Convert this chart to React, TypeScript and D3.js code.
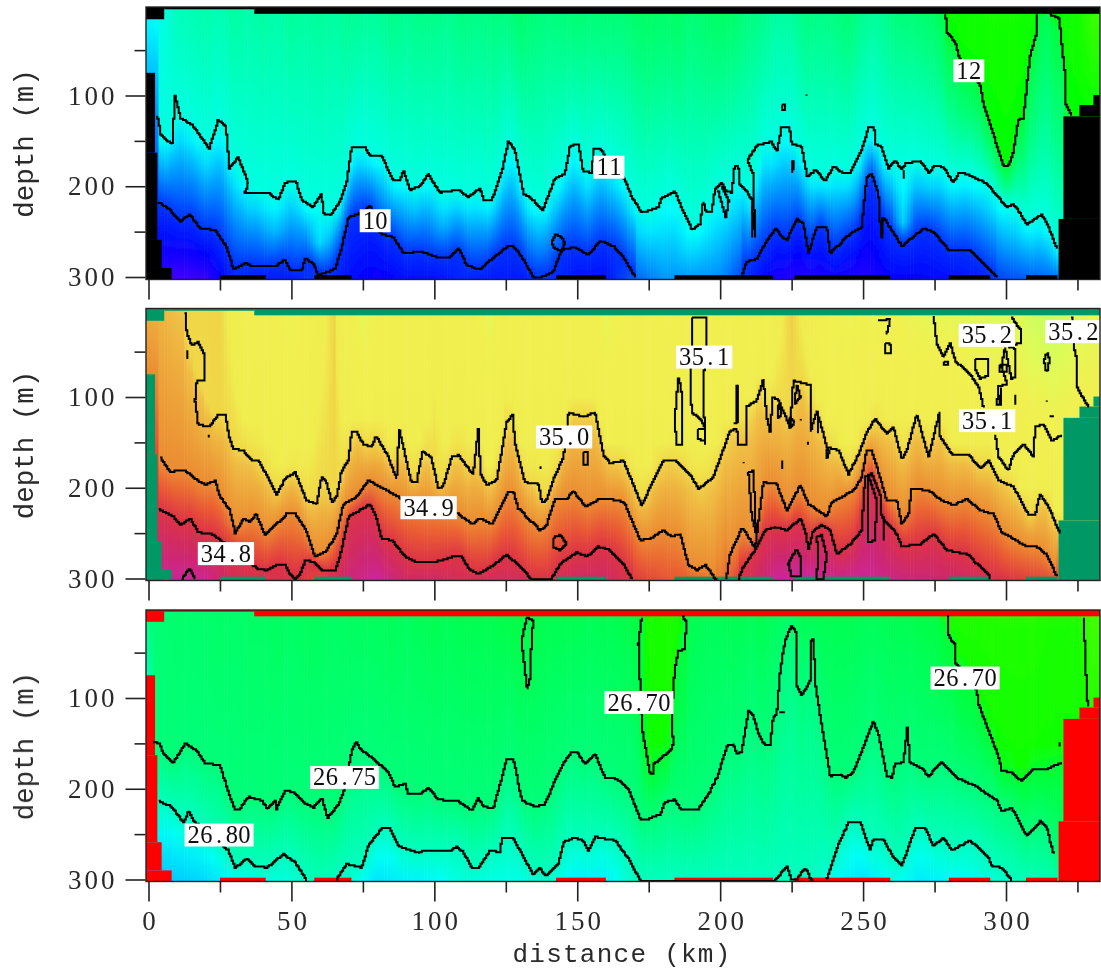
import { useEffect, useRef } from "react";
import * as d3 from "d3";

type Pt = [number, number];

// contours as [distance km, depth m]
const temp11: Pt[] = [[3.2,123],[4.4,144],[8.3,154],[9.3,100],[11.3,125],[15.1,132],[18,144],[21.2,159],[24.4,127],[27.1,134],[28.3,180],[31.4,168],[34.9,197],[33.8,207],[41.9,207],[45.4,215],[47.8,196],[51.5,194],[53.6,215],[57.4,223],[60.6,208],[61.2,230],[63.5,232],[67,217],[69.3,195],[71.1,157],[75.7,157],[77.5,166],[81.6,167],[85.7,194],[88,193],[89.2,183],[91.5,204],[95,200],[97.9,186],[100.2,199],[102,207],[108.4,204],[111.9,212],[116,202],[117.2,215],[120.1,215],[123.6,184],[125.9,151],[128.2,160],[131.2,208],[134.6,215],[137.9,227],[142.2,191],[145.7,186],[147.5,155],[150.4,154],[152.1,184],[155,185],[155.9,159],[158.2,159],[159.7,167],[166.7,193],[169.1,212],[172.6,229],[178.4,223],[179.6,213],[184.2,206],[186.6,224],[188.9,239],[190.1,248],[193,241],[194.1,217],[195.1,228],[197,228],[198.2,204],[200.5,196],[202.3,206],[204.1,207],[205,178],[206.4,178],[206.7,197],[209.3,206],[211,215],[212.2,256],[211.6,186],[209.6,171],[212.8,155],[218,151],[219.8,162],[221.5,135],[224.2,135],[225,153],[228.5,157],[230.5,190],[233.2,182],[236.7,194],[239.6,178],[243.1,186],[245.5,185],[249.5,160],[251.9,135],[253.9,135],[254.2,153],[256.5,157],[258.9,180],[261.2,171],[263.5,182],[264.7,175],[270,172],[272.9,185],[275.2,177],[278.1,179],[281.6,196],[283.4,186],[285.7,186],[293.3,197],[300.2,223],[302.6,219],[307.3,242],[312.5,231],[314.9,245],[317.8,269]];
const temp10West: Pt[] = [[3.4,217],[7.5,226],[11,239],[14.5,231],[18,247],[23.3,248],[27.3,267],[29.7,291],[33.8,285],[36.7,288],[44.3,288],[47.8,281],[49.5,292],[53.6,293],[54.8,280],[57.7,285],[59.4,298],[65.3,291],[67.6,267],[70,234],[74,230],[77.7,221],[81,252],[85.7,256],[89.2,274],[95,272],[100.8,278],[105.5,278],[108.4,268],[111.3,287],[116,292],[120.1,280],[125.9,266],[127.7,266],[130.6,278],[134.6,300],[137.6,300],[141.6,294],[144.6,270],[149.2,267],[153.9,276],[158,260],[162.6,266],[166.1,278],[170.2,300]];
const temp10East: Pt[] = [[207.5,300],[209.3,283],[212.8,280],[215.7,263],[219.2,247],[223.3,260],[226.8,236],[229.1,241],[230.9,274],[233.8,245],[237.3,245],[238.5,274],[245.5,252],[249.5,245],[251.3,190],[253,186],[255.4,208],[256.3,257],[257.1,234],[263.5,266],[271.1,247],[274.6,250],[279.9,270],[287.4,270],[290.4,280],[296.8,300]];
const temp12West: Pt[] = [[278.9,11],[279.3,30],[282.2,41],[283.7,59],[290.9,88],[292.1,109],[296.2,149],[299.1,178],[300.8,178],[302.6,162],[304.3,127],[306.1,125],[308.4,57],[310.8,30],[311,11]];
const temp12East: Pt[] = [[315.4,11],[318.7,15],[319.5,43],[320.7,79],[320.7,109],[323,122]];
const tempBits: Pt[][] = [
  [[141.1,261],[142.2,253],[144.6,256],[145.7,263],[144.6,271],[142.2,269],[141.1,261]],
  [[221.5,110],[222.8,110],[222.8,116],[221.5,116],[221.5,110]],
  [[230,98],[230,100]],
  [[225,171],[225,186]],
  [[225.6,171],[225.6,182]],
  [[264.2,183],[264.2,192]],
  [[199.3,205],[202,235],[203,215],[200.5,200]],
  [[211.4,222],[211.4,256]],
  [[256.9,234],[256.9,258]],
];

const salt350: Pt[] = [[12.8,7],[13.4,30],[15.1,43],[17.4,39],[19.4,53],[19.8,81],[16.9,82],[16.3,104],[17.4,131],[21.5,132],[24.4,119],[26.8,119],[28.5,148],[29.7,157],[33.2,159],[36.2,170],[38.4,170],[40.8,183],[44.8,208],[47.8,190],[51.3,183],[55.3,214],[58.8,218],[60.6,188],[62.3,194],[64.1,216],[65.8,210],[67.6,181],[69.9,170],[71.1,138],[72.8,139],[75.2,152],[78.1,155],[79.6,143],[83.9,166],[86.8,190],[87.7,135],[88.9,152],[92,194],[93.8,194],[95.9,159],[99,168],[101.4,201],[103.2,197],[106.1,166],[108.4,164],[113.6,186],[115.4,135],[116.2,185],[118.3,197],[121.8,192],[125.3,128],[127.4,119],[128.2,151],[131.7,194],[136.4,196],[137.6,216],[139.3,214],[141.7,190],[145.2,166],[147,117],[152.1,122],[156.2,117],[159.2,164],[161.5,173],[166.1,170],[172.6,220],[175.5,199],[180.1,170],[184.2,170],[189.5,186],[192.4,201],[197.6,188],[203.5,137],[205.8,135],[206.4,152],[209.3,152],[209,111],[212.8,104],[215.1,80],[216.3,122],[217.5,139],[218.4,100],[220.4,104],[224.5,133],[225.6,82],[231.5,87],[231.5,139],[233.8,115],[237.3,155],[241.4,159],[244.9,185],[248.4,163],[251.3,139],[254.2,124],[258.3,141],[260.6,133],[263.5,168],[265.3,159],[268.8,119],[272.9,166],[276.7,117],[277,144],[281,163],[286.9,164],[291,179],[293.9,170],[297.4,192],[302.6,199],[307.9,230],[310.2,230],[311.9,207],[314.9,221],[318.9,251]];
const salt349West: Pt[] = [[4,166],[7.5,182],[12.8,181],[16.3,190],[19.8,197],[23.3,192],[25,210],[28.5,225],[30.3,250],[33.2,234],[35.5,238],[37.6,229],[40.8,252],[43.1,245],[48.3,229],[51.3,229],[54.8,245],[58.3,276],[62.3,269],[65.8,251],[68.2,218],[72.8,210],[76.9,192],[82.2,201],[90,215],[108.4,229],[113.1,240],[116,234],[120.1,240],[123,223],[125.9,205],[127.7,205],[129.4,223],[137,247],[139.3,241],[142.2,212],[146.3,212],[148.6,203],[152.8,221],[158,212],[165,214],[166.7,218],[172,258],[175.5,256],[180.1,247],[183,254],[186,251],[188.9,285],[191.8,291],[194.7,285],[198.8,302]];
const salt349East: Pt[] = [[202.1,300],[203.5,273],[207.5,245],[209.3,251],[212.2,267],[215.1,194],[219.8,196],[223.3,225],[228,197],[230.9,218],[237.3,232],[239,216],[246.6,203],[249.5,188],[251.3,159],[253,159],[255.4,183],[258.3,214],[261.8,214],[263.5,240],[265.9,229],[267,201],[272.9,203],[277.5,214],[281.6,219],[286.3,212],[291,225],[295.6,229],[298.5,249],[307.3,265],[310.8,265],[314.3,274],[317.8,298]];
const salt348West: Pt[] = [[3.4,223],[8.7,232],[11,241],[14.5,234],[17.4,249],[22.1,251],[24.4,256],[38,289],[41.3,291],[44.8,285],[47.8,285],[49.5,295],[51.3,300],[53,295],[54.8,280],[57.7,282],[60.6,291],[65.3,291],[67,276],[70,232],[77.5,218],[79.3,229],[81.6,256],[85.1,258],[89.8,276],[93.8,282],[100.2,282],[106.6,276],[109.6,276],[111.9,289],[115.4,295],[120.7,285],[125.3,274],[130,287],[134,301],[141,300],[144,284],[149.8,271],[153.3,276],[157.4,265],[161.5,269],[166.1,284],[169,300]];
const salt348East: Pt[] = [[206.4,300],[208.1,287],[212.2,269],[215.7,247],[219.2,243],[223.3,247],[228,234],[229.7,247],[230.9,267],[232.6,247],[235.5,241],[238.5,247],[240.8,273],[245.5,262],[249.5,247],[250.7,188],[253,184],[256,208],[256.5,232],[261.8,251],[263.5,265],[270,262],[274.6,251],[279.3,269],[286.3,273],[293.9,296],[294.4,301]];
const saltBits: Pt[][] = [
  [[274.6,10],[275.8,41],[278.1,56],[280.4,40],[282.2,60],[287.4,75],[290.4,89],[292.1,111]],
  [[296.2,141],[297.4,166],[300.8,181],[302.6,163],[306.1,152],[309.6,166],[310.2,133],[313.1,130],[316,148],[319.5,142]],
  [[323,12],[323.6,42],[324.8,60],[324.8,89],[328.8,111]],
  [[185.4,78],[184.2,122],[184.6,152],[186.6,152],[186.9,104],[185.7,79]],
  [[190.4,12],[190.4,45],[189.5,86],[190.1,118],[192.4,122],[194.7,133],[194.7,153],[194.1,82],[195.3,42],[195.3,12],[190.4,12]],
  [[192,136],[194.5,136],[194.5,148],[192,146],[192,136]],
  [[205.8,87],[205.8,129],[204.5,129]],
  [[206.3,87],[206.3,129]],
  [[302,12],[305.2,27],[305.2,40],[300.9,45],[303.2,47],[303.2,78],[302,80],[299.7,45],[298.5,67],[300.3,86],[297.4,89],[296.8,109],[298.5,109],[298.5,89]],
  [[298,64],[300.2,64],[300.2,73],[298,73],[298,64]],
  [[303.2,97],[303.2,109]],
  [[297.6,97],[297.6,109]],
  [[289.2,58],[293.9,58],[293.9,76],[291,80],[289.2,69],[289.2,58]],
  [[278,61],[279.5,61],[279.5,64],[278,64],[278,61]],
  [[255.4,16],[259.5,14],[258.3,31]],
  [[257.7,40],[259.5,42],[259.5,52],[257.7,51],[257.7,40]],
  [[314.3,51],[315.3,60],[314.3,73],[313.3,60],[314.3,51]],
  [[314.3,103],[314.3,105]],
  [[315.2,121],[316.8,121]],
  [[226.8,86],[228,100],[226,108],[226.8,86]],
  [[220.4,108],[221.5,118],[220.4,124],[220.4,108]],
  [[234,118],[234,140]],
  [[224,122],[226,128],[224,135],[224,122]],
  [[228,124],[228,126]],
  [[230.9,150],[230.9,152]],
  [[208.1,171],[208.1,173]],
  [[237.3,158],[238.4,160],[237.3,168],[237.3,158]],
  [[152.1,160],[153.9,160],[153.9,175],[152.1,175],[152.1,160]],
  [[137.3,176],[137.3,180]],
  [[21.2,141],[21.2,144]],
  [[13.4,49],[13.4,58]],
  [[141.7,255],[144,252],[146.3,261],[144,269],[141.7,265],[141.7,255]],
  [[11.6,301],[14.3,289],[16.3,301]],
  [[225,276],[226.8,268],[228,276],[228,298],[225,298],[223.9,284],[225,276]],
  [[233.8,254],[235.5,252],[237.3,276],[236.1,300],[233.6,300],[234.4,276],[233.8,254]],
  [[251.9,188],[254.8,214],[254.2,258],[251.9,260],[251.9,188]],
  [[257.1,232],[257.1,258]],
  [[209.9,183],[211.6,181],[212.6,251],[211,229],[209.9,183]],
  [[221.9,170],[221.9,180]],
];

const dens675: Pt[] = [[1.7,148],[4,151],[5.2,162],[8.5,172],[12.8,150],[16.8,158],[19.8,172],[25,174],[28.5,209],[30.3,223],[32,222],[34.9,209],[39.6,213],[41.4,222],[44.3,213],[44.8,222],[47.8,202],[50.7,204],[54.2,215],[57.7,221],[60.6,210],[62.6,232],[66.4,217],[68.7,200],[71.1,158],[72.8,148],[74,156],[78.7,167],[83.9,182],[86.2,198],[89.8,194],[90.9,206],[95,206],[97.9,199],[101.4,212],[108.4,214],[113.1,224],[115.4,210],[117.2,220],[120.7,221],[123.6,188],[125.3,167],[127.7,167],[130.6,213],[135.2,220],[138.7,217],[142.2,191],[145.7,169],[148,159],[149.8,159],[152.8,173],[156.2,161],[159.7,188],[163.8,189],[167.9,200],[172,233],[174.9,233],[179,228],[180.7,215],[184.2,212],[186,222],[192.4,222],[195.9,206],[199.4,184],[202.3,153],[204.6,151],[205.8,161],[207.5,160],[209.9,114],[211.6,120],[213.4,140],[215.7,152],[217.5,152],[218.6,120],[219.8,118],[221,70],[222.7,37],[225,20],[226.8,30],[226.8,86],[228.5,97],[231.5,81],[231.7,37],[232.6,35],[233.5,90],[235.5,129],[238.5,186],[242,184],[243.7,188],[246.6,182],[250.1,154],[253.6,125],[255.4,140],[258.3,186],[260,188],[261.2,173],[264.1,171],[265.5,132],[266.4,171],[270.5,178],[272.9,186],[277.5,170],[280.4,180],[283.4,189],[289.2,197],[296.8,213],[298.5,225],[302,221],[307.3,252],[311.9,236],[314.3,243],[316.6,272]];
const dens680West: Pt[] = [[3.4,213],[8.1,220],[12.2,237],[14,225],[15.7,235],[24,258],[27.9,268],[30.3,287],[34.4,277],[37.2,285],[41.4,287],[47.2,272],[51.3,281],[55.3,301]];
const dens680Mid: Pt[] = [[65.8,300],[69.3,283],[74.6,287],[76.9,263],[81.6,244],[84.5,244],[87.4,263],[94.5,271],[96.8,268],[105.8,268],[107.8,264],[110.1,270],[113.1,287],[115.4,287],[119.5,268],[123,270],[123.6,255],[127.7,255],[130.6,272],[134.6,295],[137,287],[138.7,296],[143.4,283],[145.2,259],[148.7,254],[152.1,257],[153.9,268],[156.2,253],[163.2,257],[167.9,277],[172,301],[219.2,301],[223.3,285],[225,300],[226.8,300],[229.7,287],[232,301]];
const dens680East: Pt[] = [[237.3,300],[241.4,261],[244.9,237],[249,237],[252.4,267],[253.6,256],[257.1,256],[260.6,276],[263.5,285],[268.2,244],[271.7,243],[274.6,263],[278.1,254],[281,268],[287.4,257],[293.9,276],[295,285],[298.5,287],[302,301]];
const dens670Mid: Pt[] = [[172.6,11],[171.4,40],[172,85],[172.6,132],[175.5,184],[176.6,184],[176.6,173],[182.5,158],[183.6,151],[183,118],[184.2,66],[185.4,48],[187.7,46],[188.1,15],[186.9,10]];
const dens670East: Pt[] = [[279.9,9],[279.9,31],[282.2,42],[282.5,62],[289.8,92],[290.4,107],[293.9,136],[297.4,165],[298.5,180],[302,182],[305.2,191],[309.6,178],[314.3,178],[319.5,171]];
const densBits: Pt[][] = [
  [[132.3,11],[134.6,15],[134,40],[133.5,79],[132.5,90],[130.5,37],[132.3,11]],
  [[327.1,11],[327.7,48],[328.3,99],[328.8,110]],
  [[318.7,149],[318.7,153]],
  [[220.5,116],[222.5,116]],
];

// values at the top and bottom of the section, every 5 km and every 10 km
const surfaceKm = d3.range(0, 335, 5);
const bottomKm = d3.range(0, 340, 10);
const tempSurface = [10.95,11,11.2,11.25,11.3,11.25,11.35,11.3,11.35,11.3,11.4,11.35,11.4,11.35,11.45,11.4,11.4,11.5,11.45,11.5,11.5,11.45,11.55,11.5,11.55,11.55,11.7,11.6,11.55,11.6,11.65,11.6,11.65,11.6,11.7,11.75,11.7,11.75,11.6,11.7,11.75,11.7,11.55,11.5,11.35,11.4,11.55,11.5,11.55,11.65,11.45,11.4,11.55,11.6,11.65,11.75,12.05,12.1,12.1,12.1,12.1,12.1,12.05,11.85,12.05,12.1,12.3];
const tempBottom = [9.7,9.55,9.6,9.95,9.9,9.9,10.05,9.85,9.75,9.85,9.85,9.95,9.9,9.9,10,9.85,9.85,10.2,10.45,10.45,10.4,9.95,9.7,9.65,9.75,9.65,9.8,9.8,9.85,9.9,10.1,10.2,10.25,10.2];
const saltSurface = [34.96,34.97,34.99,35,35,34.998,35.02,35.06,35.05,35.07,35.12,35.05,35.02,34.998,35.06,35.15,35.08,35.07,35.06,35.07,35.02,35.06,35.05,35.08,35.14,35.03,35.09,35.06,35.05,35.06,35.08,35.06,35.14,35.1,35.07,35.08,35.08,35.07,35.08,35.07,35.08,35.09,35.07,35.06,35.02,34.995,35.02,35.06,35.1,35.12,35.09,35.13,35.1,35.12,35.14,35.15,35.14,35.15,35.16,35.17,35.16,35.17,35.2,35.22,35.2,35.17,35.15];
const saltBottom = [34.72,34.71,34.72,34.78,34.79,34.79,34.83,34.74,34.71,34.76,34.76,34.78,34.77,34.77,34.79,34.76,34.76,34.81,34.84,34.85,34.88,34.78,34.71,34.7,34.72,34.71,34.73,34.74,34.75,34.77,34.8,34.82,34.83,34.83];
const densSurface = [26.75,26.745,26.74,26.74,26.74,26.735,26.74,26.735,26.735,26.73,26.735,26.73,26.73,26.735,26.73,26.73,26.73,26.725,26.73,26.725,26.72,26.725,26.72,26.72,26.72,26.715,26.71,26.715,26.72,26.72,26.72,26.725,26.72,26.72,26.71,26.695,26.69,26.69,26.72,26.725,26.725,26.72,26.725,26.72,26.73,26.725,26.72,26.72,26.72,26.72,26.725,26.725,26.72,26.72,26.715,26.71,26.69,26.685,26.685,26.685,26.685,26.685,26.685,26.69,26.69,26.69,26.66];
const densBottom = [26.87,26.86,26.85,26.82,26.815,26.81,26.795,26.805,26.84,26.83,26.825,26.81,26.815,26.815,26.805,26.83,26.83,26.8,26.79,26.79,26.79,26.79,26.795,26.795,26.82,26.84,26.815,26.835,26.825,26.815,26.805,26.795,26.79,26.79];

// warm tongues that rise between the contours: [km, half width km, depth m, value]
const tempPlumes: [number, number, number, number][] = [
  [60, 5, 262, 10.75],[44, 6, 250, 10.6],[103, 5, 245, 10.55],[189.5, 5, 270, 10.75],[264, 4, 240, 10.7],
];

// where the section is blanked the shading still needs something to hold on to
const tempGhost12: Pt[] = [[323.1,122],[334,130]];
const tempGhost11: Pt[] = [[317.9,269],[334,285]];
const saltGhost350: Pt[] = [[319,251],[334,262]];
const densGhost675: Pt[] = [[316.7,272],[334,290]];
const densGhost670: Pt[] = [[319.6,171],[334,180]];

// colour tables
const tempKnots = [9.4,9.8,10,10.5,10.9,11,11.5,11.99,12,12.3,12.5];
const tempColors = ["#6e00ff","#0000ff","#0032ff","#00a0ff","#00ffff","#00ffe1","#00ff82","#00ff3c","#00ff00","#3cff00","#6eff00"];
const saltKnots = [34.7,34.75,34.8,34.85,34.9,34.95,34.99,35,35.01,35.1,35.15,35.2,35.3];
const saltColors = ["#cd23a5","#cd286e","#dc3246","#eb5a32","#eb8c32","#eeaa3c","#f0c346","#f0d746","#f0ee50","#f0f050","#e1fa55","#c8ff5f","#aaff6e"];
const densKnots = [26.65,26.699,26.7,26.75,26.8,26.82,26.85,26.9];
const densColors = ["#50ff00","#0fff00","#00ff32","#00ff78","#00ffbe","#00fff5","#00d7ff","#00a0ff"];

// blanked areas: [km from, km to, depth from, depth to]
const blanks: [number, number, number, number][] = [
  [-1.5,5.5,0,16],[5.5,37,0,5],[37,334,0,10],
  [-1.5,2.3,75,163],[-1.5,3.1,163,259],[-1.5,4.6,259,290],[-1.5,8.1,290,305],
  [320.1,334,123,236],[318.4,334,236,305],[325.7,334,110.5,123],[330.6,334,99.5,110.5],
  [25,41,298,305],[58,71,298,305],[142.6,160,298,305],[184,218.5,298,305],[226,259.5,298,305],[280,294.5,298,305],[307,318,298,305],
];

const xTicksMajor = [0,50,100,150,200,250,300];
const xTicksMinor = [25,75,125,175,225,275,325];
const depthTicksMajor = [100,200,300];
const depthTicksMinor = [50,150,250];

type Iso = { value: number; parts: Pt[][]; ghost?: Pt[]; sharp?: boolean };
type Tag = { text: string; km: number; depth: number };
type Panel = {
  id: string; y0: number; y300: number; frameTop: number; frameBottom: number; blank: string;
  knots: number[]; colors: string[]; surface: number[]; bottom: number[];
  isos: Iso[]; bits: Pt[][]; tags: Tag[]; plumes?: [number, number, number, number][];
};

const panels: Panel[] = [
  {
    id: "temp", y0: 4.75, y300: 277, frameTop: 7, frameBottom: 279.5, blank: "#000000",
    knots: tempKnots, colors: tempColors, surface: tempSurface, bottom: tempBottom, plumes: tempPlumes,
    isos: [
      { value: 12, parts: [temp12West, temp12East], ghost: tempGhost12, sharp: true },
      { value: 11, parts: [temp11], ghost: tempGhost11 },
      { value: 10, parts: [temp10West, temp10East] },
    ],
    bits: tempBits,
    tags: [
      { text: "10", km: 79.3, depth: 238 },
      { text: "11", km: 161.1, depth: 179 },
      { text: "12", km: 287, depth: 72.7 },
    ],
  },
  {
    id: "salt", y0: 306.25, y300: 578.5, frameTop: 308.5, frameBottom: 580.5, blank: "#009966",
    knots: saltKnots, colors: saltColors, surface: saltSurface, bottom: saltBottom,
    isos: [
      { value: 35, parts: [salt350], ghost: saltGhost350 },
      { value: 34.9, parts: [salt349West, salt349East] },
      { value: 34.8, parts: [salt348West, salt348East] },
    ],
    bits: saltBits,
    tags: [
      { text: "34.8", km: 27.1, depth: 272.6 },
      { text: "34.9", km: 98, depth: 222 },
      { text: "35.0", km: 145.4, depth: 144 },
      { text: "35.1", km: 194.4, depth: 56 },
      { text: "35.1", km: 293.4, depth: 126 },
      { text: "35.2", km: 293.3, depth: 32 },
      { text: "35.2", km: 323.6, depth: 28 },
    ],
  },
  {
    id: "dens", y0: 607.25, y300: 879.5, frameTop: 610, frameBottom: 881.5, blank: "#ff0000",
    knots: densKnots, colors: densColors, surface: densSurface, bottom: densBottom,
    isos: [
      { value: 26.7, parts: [dens670Mid, dens670East], ghost: densGhost670, sharp: true },
      { value: 26.75, parts: [dens675], ghost: densGhost675 },
      { value: 26.8, parts: [dens680West, dens680Mid, dens680East] },
    ],
    bits: densBits,
    tags: [
      { text: "26.75", km: 68.6, depth: 187.5 },
      { text: "26.80", km: 24.7, depth: 251 },
      { text: "26.70", km: 171.6, depth: 105 },
      { text: "26.70", km: 285.7, depth: 78 },
    ],
  },
];

const FONT = "'Liberation Mono', monospace";
const DIGIT_FONT = "'Liberation Serif', serif"; // its zero has no dot, as in the picture
const TEXT_FILL = "#2a2a2a";
const TAG_ADVANCE = 12.7;

// depth of an isoline under a given km, null if the line does not reach it
function depthOn(parts: Pt[][], km: number): number | null {
  for (const part of parts) {
    const sorted = [...part].sort((a, b) => a[0] - b[0]);
    if (km < sorted[0][0] || km > sorted[sorted.length - 1][0]) continue;
    return d3.scaleLinear(sorted.map((p) => p[0]), sorted.map((p) => p[1]))(km);
  }
  return null;
}

// the original was a small bitmap, so contours walk along a coarse pixel grid
const CELL = 1.43;
function stairPath(points: [number, number][]): string {
  const path = d3.path();
  let cx = Math.round(points[0][0] / CELL);
  let cy = Math.round(points[0][1] / CELL);
  path.moveTo(cx * CELL, cy * CELL);
  for (let i = 1; i < points.length; i++) {
    const [ax, ay] = points[i - 1];
    const [bx, by] = points[i];
    const n = Math.max(1, Math.ceil(Math.hypot(bx - ax, by - ay) / (CELL / 2)));
    for (let k = 1; k <= n; k++) {
      const nx = Math.round((ax + ((bx - ax) * k) / n) / CELL);
      const ny = Math.round((ay + ((by - ay) * k) / n) / CELL);
      if (nx !== cx) path.lineTo(nx * CELL, cy * CELL);
      if (ny !== cy) path.lineTo(nx * CELL, ny * CELL);
      cx = nx;
      cy = ny;
    }
  }
  return path.toString();
}

function App() {
  const ref = useRef<SVGSVGElement>(null);

  useEffect(() => {
    const svg = d3.select(ref.current);
    svg.selectAll("*").remove();

    const x = d3.scaleLinear().domain([0, 300]).range([148.5, 1006]);
    const defs = svg.append("defs");
    defs
      .append("filter")
      .attr("id", "soft")
      .attr("filterUnits", "userSpaceOnUse")
      .attr("x", 0)
      .attr("y", 0)
      .attr("width", 1101)
      .attr("height", 970)
      .append("feGaussianBlur")
      .attr("stdDeviation", 0.55);

    const root = svg.append("g").attr("filter", "url(#soft)");
    const columns = d3.range(-1, 334);

    panels.forEach((p, pi) => {
      const y = d3.scaleLinear().domain([0, 300]).range([p.y0, p.y300]);
      const color = d3.scaleLinear<string>().domain(p.knots).range(p.colors).clamp(true);
      const surface = d3.scaleLinear().domain(surfaceKm).range(p.surface).clamp(true);
      const bottom = d3.scaleLinear().domain(bottomKm).range(p.bottom).clamp(true);
      const bottomDepth = y.invert(p.frameBottom);

      defs
        .append("clipPath")
        .attr("id", `clip-${p.id}`)
        .append("rect")
        .attr("x", 146)
        .attr("y", p.frameTop)
        .attr("width", 954)
        .attr("height", p.frameBottom - p.frameTop);

      const panel = root.append("g").attr("clip-path", `url(#clip-${p.id})`);

      // one vertical gradient per km column, pinned to the isolines
      columns.forEach((km) => {
        const anchors: [number, number][] = [[0, surface(km)]];
        p.isos.forEach((iso) => {
          const parts = iso.ghost ? [...iso.parts, iso.ghost] : iso.parts;
          const centre = depthOn(parts, km);
          if (centre === null) return;
          let d = centre;
          if (!iso.sharp) {
            const near = [-2, -1, 0, 1, 2]
              .map((o) => depthOn(parts, km + o))
              .filter((v) => v !== null) as number[];
            d = d3.mean(near) as number;
          }
          if (d < bottomDepth - 1) anchors.push([d, iso.value]);
        });
        anchors.push([bottomDepth, bottom(km)]);
        anchors.sort((a, b) => a[0] - b[0]);
        const base = d3.scaleLinear(anchors.map((a) => a[0]), anchors.map((a) => a[1]));

        // plumes fade out towards their sides
        (p.plumes || []).forEach((pl) => {
          const off = Math.abs(km - pl[0]) / pl[1];
          if (off >= 1) return;
          const v = base(pl[2]);
          anchors.push([pl[2], v + (pl[3] - v) * (1 - off)]);
        });
        anchors.sort((a, b) => a[0] - b[0]);

        const value = d3.scaleLinear(anchors.map((a) => a[0]), anchors.map((a) => a[1]));
        const depths = new Set<number>(d3.range(0, bottomDepth, 25));
        anchors.forEach((a) => {
          depths.add(a[0]);
          depths.add(Math.min(a[0] + 1, bottomDepth));
        });
        const gid = `g-${p.id}-${km + 1}`;
        const grad = defs
          .append("linearGradient")
          .attr("id", gid)
          .attr("gradientUnits", "userSpaceOnUse")
          .attr("x1", 0)
          .attr("x2", 0)
          .attr("y1", y(0))
          .attr("y2", p.frameBottom);
        [...depths]
          .sort((a, b) => a - b)
          .forEach((d) => {
            grad
              .append("stop")
              .attr("offset", d / bottomDepth)
              .attr("stop-color", color(value(d)));
          });
        panel
          .append("rect")
          .attr("x", x(km - 0.5))
          .attr("y", p.frameTop)
          .attr("width", x(1) - x(0) + 0.6)
          .attr("height", p.frameBottom - p.frameTop)
          .attr("fill", `url(#${gid})`);
      });

      panel
        .selectAll("rect.blank")
        .data(blanks)
        .join("rect")
        .attr("class", "blank")
        .attr("x", (d) => x(d[0]))
        .attr("y", (d) => y(d[2]))
        .attr("width", (d) => x(d[1]) - x(d[0]))
        .attr("height", (d) => y(d[3]) - y(d[2]))
        .attr("fill", p.blank);

      const allLines = [...p.isos.flatMap((iso) => iso.parts), ...p.bits];
      panel
        .selectAll("path.iso")
        .data(allLines)
        .join("path")
        .attr("class", "iso")
        .attr("d", (d) => stairPath(d.map((q) => [x(q[0]), y(q[1])])))
        .attr("fill", "none")
        .attr("stroke", "#000")
        .attr("stroke-width", 2);

      // inline labels sit on white boxes, each glyph on a fixed pitch
      const tags = panel.selectAll("g.tag").data(p.tags).join("g").attr("class", "tag");
      tags
        .append("rect")
        .attr("x", (d) => x(d.km) - (d.text.length * TAG_ADVANCE + 5.5) / 2)
        .attr("y", (d) => y(d.depth) - 11.5)
        .attr("width", (d) => d.text.length * TAG_ADVANCE + 5.5)
        .attr("height", 23)
        .attr("fill", "#fff");
      tags
        .append("text")
        .attr("x", (d) => {
          const left = x(d.km) - (d.text.length * TAG_ADVANCE) / 2;
          return d.text
            .split("")
            .map((c, i) => left + i * TAG_ADVANCE + (c === "." ? 3.2 : 0.2))
            .join(" ");
        })
        .attr("y", (d) => y(d.depth) + 8)
        .attr("font-family", DIGIT_FONT)
        .attr("font-size", 24.5)
        .attr("fill", "#111")
        .text((d) => d.text);

      // frame
      root
        .append("rect")
        .attr("x", 146)
        .attr("y", p.frameTop)
        .attr("width", 954)
        .attr("height", p.frameBottom - p.frameTop)
        .attr("fill", "none")
        .attr("stroke", "#222")
        .attr("stroke-width", 1.4);

      // axes
      const styleAxis = (g: any) => {
        g.select(".domain").remove();
        g.selectAll("line").attr("stroke", "#222").attr("stroke-width", 1.6);
        g.selectAll("text")
          .attr("font-family", DIGIT_FONT)
          .attr("font-size", 27)
          .attr("letter-spacing", 3)
          .attr("fill", TEXT_FILL);
      };
      root
        .append("g")
        .attr("transform", "translate(145.5,0)")
        .call(d3.axisLeft(y).tickValues(depthTicksMajor).tickSize(20).tickPadding(8))
        .call(styleAxis);
      root
        .append("g")
        .attr("transform", "translate(145.5,0)")
        .call(d3.axisLeft(y).tickValues(depthTicksMinor).tickSize(11).tickFormat(() => ""))
        .call(styleAxis);
      root
        .append("g")
        .attr("transform", `translate(0,${p.frameBottom})`)
        .call(
          d3
            .axisBottom(x)
            .tickValues(xTicksMajor)
            .tickSize(20)
            .tickPadding(9)
            .tickFormat((d) => (pi === 2 ? String(d) : ""))
        )
        .call(styleAxis)
        .selectAll("text")
        .attr("dx", 1.5);
      root
        .append("g")
        .attr("transform", `translate(0,${p.frameBottom})`)
        .call(d3.axisBottom(x).tickValues(xTicksMinor).tickSize(11).tickFormat(() => ""))
        .call(styleAxis);

      root
        .append("text")
        .attr("transform", `translate(33,${y(153)}) rotate(-90)`)
        .attr("text-anchor", "middle")
        .attr("font-family", FONT)
        .attr("font-size", 27.5)
        .attr("fill", TEXT_FILL)
        .text("depth (m)");
    });

    root
      .append("text")
      .attr("x", 622)
      .attr("y", 962)
      .attr("text-anchor", "middle")
      .attr("font-family", FONT)
      .attr("font-size", 26)
      .attr("letter-spacing", 1.25)
      .attr("fill", TEXT_FILL)
      .text("distance (km)");
  }, []);

  return (
    <svg
      ref={ref}
      width={1101}
      height={970}
      style={{ position: "absolute", left: 0, top: 0, display: "block", background: "#fff" }}
    />
  );
}

export default App;
